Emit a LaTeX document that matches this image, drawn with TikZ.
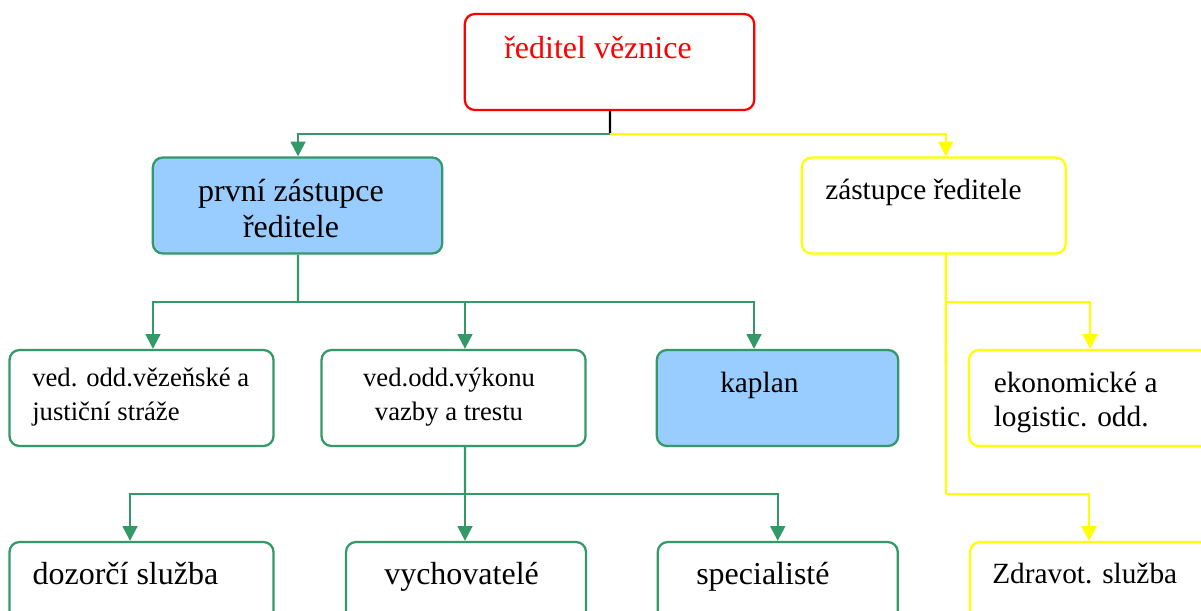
\documentclass[tikz,border=0pt]{standalone}
\usepackage{fontspec}
\setmainfont{Liberation Serif}
\usetikzlibrary{arrows.meta}
\definecolor{zelena}{HTML}{339966}
\definecolor{modra}{HTML}{99CCFF}
\definecolor{zluta}{HTML}{FFFF00}
\definecolor{cervena}{HTML}{FF0000}

\begin{document}
\begin{tikzpicture}[x=0.75pt,y=-0.75pt,
	box/.style={rounded corners=7.5pt, line width=1.7pt, fill=white, minimum height=72pt, inner sep=0pt},
	gbox/.style={box, draw=zelena},
	ybox/.style={box, draw=zluta},
	txt/.style={inner sep=0pt, anchor=base west},
	velky/.style={font=\fontsize{24}{27}\selectfont},
	stredni/.style={font=\fontsize{22}{25.7}\selectfont},
	maly/.style={font=\fontsize{20}{25}\selectfont},
	garr/.style={draw=zelena, line width=1.7pt, -{Triangle[length=11pt,width=11pt]}},
	yarr/.style={draw=zluta, line width=1.7pt, -{Triangle[length=11pt,width=11pt]}},
	gline/.style={draw=zelena, line width=1.7pt},
	yline/.style={draw=zluta, line width=1.7pt}]
	\clip (0,0) rectangle (1201,610);
	%\draw[help lines] (0,0) grid[step=50] (1201,610);
	% boxes
	\node[box, draw=cervena, minimum width=217pt] (dir) at (609.5,62) {};
	\node[gbox, fill=modra, minimum width=217pt] (prvni) at (297.5,205.5) {};
	\node[ybox, minimum width=198pt] (zast) at (933.75,205.5) {};
	\node[gbox, minimum width=198pt] (ved1) at (141.5,398) {};
	\node[gbox, minimum width=198pt] (ved2) at (453.5,398) {};
	\node[gbox, fill=modra, minimum width=181pt] (kaplan) at (777.5,398) {};
	\node[ybox, minimum width=198pt] (ekon) at (1101,398) {};
	\node[gbox, minimum width=198pt] (dozor) at (141.5,590) {};
	\node[gbox, minimum width=180pt] (vych) at (466,590) {};
	\node[gbox, minimum width=180pt] (spec) at (777.75,590) {};
	\node[ybox, minimum width=198pt] (zdrav) at (1102,590) {};
	% texts (multi-line ones sit on their last baseline)
	\node[txt, velky, text=cervena] (dirlbl) at (504,58.3) {ředitel věznice};
	\node[txt, velky, anchor=base, align=center] (prvnilbl) at (291,237.3) {první zástupce\\ředitele};
	\node[txt, stredni] (zastlbl) at (825,199) {zástupce ředitele};
	\node[txt, maly, align=left] (ved1lbl) at (32,420) {ved. odd.vězeňské a\\justiční stráže};
	\node[txt, maly, anchor=base, align=center] (ved2lbl) at (449,420) {ved.odd.výkonu\\vazby a trestu};
	\node[txt, stredni] (kaplanlbl) at (720,392.3) {kaplan};
	\node[txt, stredni, align=left] (ekonlbl) at (993.5,426.7) {ekonomické a\\logistic. odd.};
	\node[txt, velky] (dozorlbl) at (32.3,584.3) {dozorčí služba};
	\node[txt, velky] (vychlbl) at (384,584.3) {vychovatelé};
	\node[txt, velky] (speclbl) at (696,584) {specialisté};
	\node[txt, stredni] (zdravlbl) at (992,583) {Zdravot. služba};
	% connectors
	\coordinate (split) at (610,134);
	\coordinate (gbus) at (298,302);
	\coordinate (gbus2) at (465,494);
	\coordinate (ybus) at (946,302);
	\coordinate (ybus2) at (946,494);
	\draw[line width=1.7pt] ([xshift=0.4pt]dir.south) -- (split);
	\draw[garr] (split) -| ([xshift=0.4pt]prvni.north);
	\draw[yarr] (split) -| ([xshift=9pt]zast.north);
	\draw[gline] ([xshift=0.4pt]prvni.south) -- (gbus);
	\draw[garr] (gbus) -| ([xshift=8.6pt]ved1.north);
	\draw[garr] (gbus) -| ([xshift=8.6pt]ved2.north);
	\draw[garr] (gbus) -| ([xshift=-17.6pt]kaplan.north);
	\draw[gline] ([xshift=8.6pt]ved2.south) -- (gbus2);
	\draw[garr] (gbus2) -| ([xshift=-8.6pt]dozor.north);
	\draw[garr] (gbus2) -| ([xshift=-0.75pt]vych.north);
	\draw[garr] (gbus2) -| (spec.north);
	\draw[yline] ([xshift=9pt]zast.south) -- (ybus2);
	\draw[yarr] (ybus) -| ([xshift=-8.25pt]ekon.north);
	\draw[yarr] (ybus2) -| ([xshift=-9.75pt]zdrav.north);
\end{tikzpicture}
\end{document}
